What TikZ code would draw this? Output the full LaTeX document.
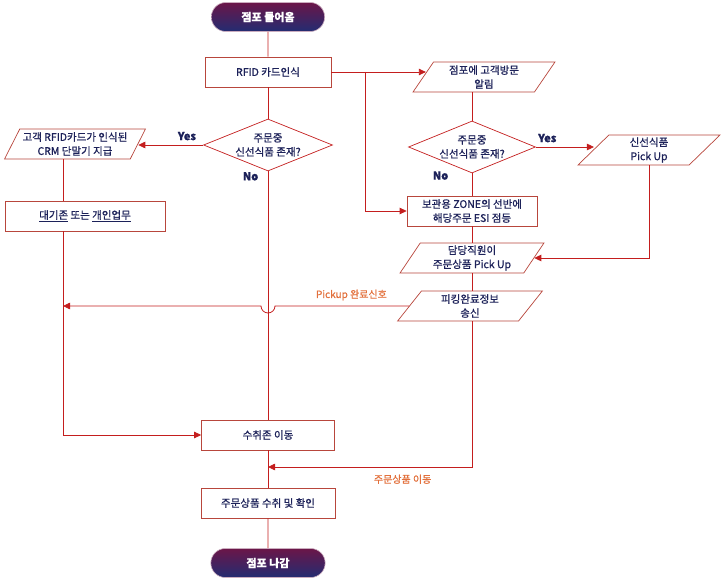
\documentclass[tikz,border=0pt]{standalone}
\usepackage{fontspec}
\setmainfont{Noto Sans CJK KR}[FakeBold=0.8]
\usetikzlibrary{shapes.geometric,shapes.misc,arrows.meta}
\definecolor{flowred}{HTML}{C41E1E}
\definecolor{boxred}{HTML}{B8463C}
\definecolor{textnavy}{HTML}{1C2159}
\definecolor{labelorange}{HTML}{E2703C}
\definecolor{termtop}{HTML}{6B1648}
\definecolor{termbot}{HTML}{232C72}
\tikzset{
  basetext/.style={text=textnavy, font=\fontsize{10.5}{14}\selectfont, align=center},
  procbox/.style={basetext, rectangle, draw=boxred, fill=white, line width=0.7pt, minimum height=30pt, inner sep=2pt},
  iobox/.style={basetext, trapezium, trapezium left angle=60, trapezium right angle=120, trapezium stretches=true, draw=boxred, fill=white, line width=0.7pt, minimum height=30pt, inner sep=1pt},
  decbox/.style={basetext, diamond, aspect=2.4, inner sep=-6pt, draw=flowred, fill=white, line width=0.7pt, minimum width=129pt, minimum height=52pt},
  termbox/.style={rounded rectangle, minimum width=120pt, minimum height=29pt, top color=termtop, bottom color=termbot, draw=white!65!termtop, line width=0.6pt, text=white, font=\fontsize{11}{13}\selectfont\bfseries},
  flow/.style={draw=flowred, line width=0.8pt},
  flowarrow/.style={flow, -{Triangle[length=7pt,width=6.5pt]}},
  yesno/.style={text=textnavy, font=\fontsize{11}{12}\selectfont\bfseries},
  orangelabel/.style={text=labelorange, font=\fontsize{10}{12}\selectfont}
}
\begin{document}
\begin{tikzpicture}[x=1pt,y=-1pt]
\useasboundingbox (0,0) rectangle (723,580);
% main column
\node[termbox] (start) at (268,17) {점포 들어옴};
\node[procbox, minimum width=126pt] (rfid) at (268,72) {RFID 카드인식};
\node[decbox] (dec1) at (268,145) {주문중\\신선식품 존재?};
\node[procbox, minimum width=133pt] (recv) at (268,435) {수취존 이동};
\node[procbox, minimum width=134pt] (confirm) at (268,503) {주문상품 수취 및 확인};
\node[termbox, minimum width=121pt] (finish) at (268,563) {점포 나감};
% left column
\node[iobox, minimum width=141pt] (crm) at (75,144) {고객 RFID카드가 인식된\\CRM 단말기 지급};
\node[procbox, minimum width=160pt] (wait) at (85,216) {\underline{대기존} 또는 \underline{개인업무}};
% right column
\node[iobox, minimum width=142pt] (notify) at (484,77) {점포에 고객방문\\알림};
\node[decbox, minimum width=127pt] (dec2) at (472,147) {주문중\\신선식품 존재?};
\node[iobox, minimum width=142pt] (fresh) at (649,150) {신선식품\\Pick Up};
\node[procbox, minimum width=130pt] (zone) at (472,211) {보관용 ZONE의 선반에\\해당주문 ESI 점등};
\node[iobox, minimum width=144pt] (staff) at (472,258) {담당직원이\\주문상품 Pick Up};
\node[iobox, minimum width=146pt] (pik) at (470,306) {피킹완료정보\\송신};
% free ends
\coordinate (split) at (365,72);
\coordinate (lx) at (63,0);
\coordinate (leftjoin) at (63,306);
\coordinate (lowjoin) at (268,467);
% connectors
\draw[flow] (start) -- (rfid);
\draw[flow] (rfid) -- (dec1);
\draw[flow] (rfid.east) -- (split);
\draw[flowarrow, shorten >=-3pt] (split) -- (split -| notify.west);
\draw[flowarrow] (split) |- (zone.west);
\draw[flowarrow] (dec1.west) -- node[yesno, above=1pt, pos=0.25] (yes1) {Yes} (dec1.west -| crm.east);
\draw[flow] (dec1.south) -- node[yesno, pos=0.02, left=6pt] (no1) {No} (recv.north);
\draw[flow] (crm.south -| lx) -- (wait.north -| lx);
\draw[flowarrow] (wait.south -| lx) |- (recv.west);
\draw[flow] (recv) -- (confirm);
\draw[flow] (confirm) -- (finish);
\draw[flow] (dec2.north |- notify.south) -- (dec2.north);
\draw[flowarrow, shorten >=-1pt] (dec2.east) -- node[yesno, above=1pt, pos=0.2] (yes2) {Yes} (dec2.east -| fresh.west);
\draw[flow] (dec2.south) -- node[yesno, pos=0.1, left=20pt] (no2) {No} (zone.north);
\draw[flowarrow] (fresh.south) |- (staff.east);
\draw[flow] (zone) -- (staff);
\draw[flow] (staff.south) -- (staff.south |- pik.north);
\draw[flowarrow] (pik.west) -- node[orangelabel, above=2pt, pos=0.43] (pksig) {Pickup 완료신호} (275,306)
  arc[start angle=0, end angle=180, radius=7] -- (leftjoin);
\draw[flowarrow] (staff.south |- pik.south) |- node[orangelabel, below=4pt, pos=0.67] (move) {주문상품 이동} (lowjoin);
\end{tikzpicture}
\end{document}
